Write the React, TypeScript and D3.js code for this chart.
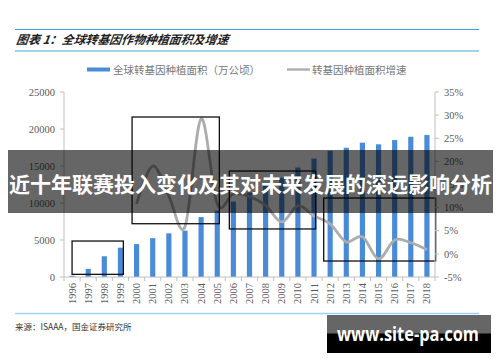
import React from 'react';
import * as d3 from 'd3';

// chart data
const years = d3.range(1996, 2019).map(String);
const areaValues = [170, 1100, 2800, 3960, 4450, 5250, 5900, 6260, 8100, 8960, 10200, 11430, 12500, 13400, 14800, 16000, 17060, 17470, 18150, 17930, 18500, 18950, 19180];
const growthYears = d3.range(2000, 2019).map(String);
const growthValues = [10.8, 19.0, 12.5, 5.9, 29.2, 10.8, 13.0, 12.4, 10.5, 6.9, 10.4, 8.2, 6.5, 2.6, 3.7, -1.1, 3.0, 2.4, 0.9];
const leftTicks = [0, 5000, 10000, 15000, 20000, 25000];
const rightTicks = [-5, 0, 5, 10, 15, 20, 25, 30, 35];

// highlight boxes: fractional category index range, and left-axis value range
const boxes = [
  { from: 0, to: 3.18, top: 4860, bottom: 360 },
  { from: 3.72, to: 9.13, top: 21620, bottom: 7200 },
  { from: 9.75, to: 15.1, top: 14320, bottom: 6490 },
  { from: 15.6, to: 22.54, top: 10670, bottom: 2160 },
];

const titleText = '图表 1：全球转基因作物种植面积及增速';
const legendBar = '全球转基因种植面积（万公顷）';
const legendLine = '转基因种植面积增速';
const sourceText = '来源：ISAAA，国金证券研究所';
const bannerText = '近十年联赛投入变化及其对未来发展的深远影响分析';
const watermark = 'www.site-pa.com';

const W = 500;
const H = 362;
const plot = { left: 64, right: 435, top: 92, bottom: 277 };

const serif = '"Liberation Serif", "DejaVu Serif", serif';
const cjk = '"Noto Sans CJK SC", "Noto Sans", sans-serif';
const axisColor = '#bfbfbf';
const labelColor = '#595959';

export default function App() {
  const x = d3.scaleBand<string>()
    .domain(years)
    .range([plot.left, plot.right])
    .paddingInner(0.68)
    .paddingOuter(0.34);
  const step = x.step();
  const xc = (i: number) => (x(years[0]) as number) + x.bandwidth() / 2 + step * i;

  const yL = d3.scaleLinear().domain([0, 25000]).range([plot.bottom, plot.top]);
  const yR = d3.scaleLinear().domain([-5, 35]).range([plot.bottom, plot.top]);

  const lineGen = d3.line<number>()
    .x((_, i) => (x(growthYears[i]) as number) + x.bandwidth() / 2)
    .y(d => yR(d))
    .curve(d3.curveCatmullRom.alpha(0));

  // x-axis ticks between categories
  const xTickPos = d3.range(years.length + 1).map(i => plot.left + step * i);

  return (
    <svg width={W} height={H} style={{ position: 'absolute', left: 0, top: 0, background: '#fff' }}>
      {/* header */}
      <line x1={15} x2={479} y1={29.5} y2={29.5} stroke="#3ea6dc" strokeWidth={1.2} />
      <text x={16} y={44} fontFamily={cjk} fontSize={12} fontWeight="bold" fontStyle="italic" fill="#1f1f1f"
        transform="skewX(-8) translate(6,0)" textLength={212} lengthAdjust="spacingAndGlyphs">{titleText}</text>
      <line x1={15} x2={479} y1={51} y2={51} stroke="#3ea6dc" strokeWidth={1.2} />

      {/* legend */}
      <rect x={87} y={67.5} width={23} height={4} fill="#4a8bd7" />
      <text x={113} y={73.5} fontFamily={cjk} fontSize={10.5} fill="#777">{legendBar}</text>
      <line x1={287} x2={310} y1={69.5} y2={69.5} stroke="#b0b0b0" strokeWidth={2.5} />
      <text x={312} y={73.5} fontFamily={cjk} fontSize={10.5} fill="#777">{legendLine}</text>

      {/* bars */}
      {areaValues.map((v, i) => (
        <rect key={years[i]} x={x(years[i])} y={yL(v)} width={x.bandwidth()} height={yL(0) - yL(v)} fill="#4a8bd7" />
      ))}

      {/* growth line */}
      <path d={lineGen(growthValues) || ''} fill="none" stroke="#acacac" strokeWidth={2.8} />

      {/* highlight boxes */}
      {boxes.map((b, i) => (
        <rect key={i} x={xc(b.from)} y={yL(b.top)} width={xc(b.to) - xc(b.from)} height={yL(b.bottom) - yL(b.top)}
          fill="none" stroke="#111" strokeWidth={1.3} />
      ))}

      {/* left axis */}
      <line x1={plot.left} x2={plot.left} y1={plot.top} y2={plot.bottom} stroke={axisColor} />
      {leftTicks.map(t => (
        <g key={t}>
          <line x1={plot.left - 4} x2={plot.left} y1={yL(t)} y2={yL(t)} stroke={axisColor} />
          <text x={55} y={yL(t)} dy="0.35em" textAnchor="end" fontFamily={serif} fontSize={10.5} fill={labelColor}>{t}</text>
        </g>
      ))}

      {/* right axis */}
      <line x1={plot.right} x2={plot.right} y1={plot.top} y2={plot.bottom} stroke={axisColor} />
      {rightTicks.map(t => (
        <g key={t}>
          <line x1={plot.right} x2={plot.right + 4} y1={yR(t)} y2={yR(t)} stroke={axisColor} />
          <text x={444} y={yR(t)} dy="0.35em" fontFamily={serif} fontSize={10.5} fill={labelColor}>{t}%</text>
        </g>
      ))}

      {/* x axis */}
      <line x1={plot.left} x2={plot.right} y1={plot.bottom} y2={plot.bottom} stroke={axisColor} />
      {xTickPos.map((p, i) => (
        <line key={i} x1={p} x2={p} y1={plot.bottom} y2={plot.bottom + 4} stroke={axisColor} />
      ))}
      {years.map(yr => {
        const cx = (x(yr) as number) + x.bandwidth() / 2;
        return (
          <text key={yr} transform={`translate(${cx + 3.5},283) rotate(-90)`} textAnchor="end"
            fontFamily={serif} fontSize={10.5} fill={labelColor}>{yr}</text>
        );
      })}

      {/* footer */}
      <line x1={15} x2={479} y1={313.5} y2={313.5} stroke="#9dd3ef" strokeWidth={1.5} />
      <text x={15} y={330} fontFamily={cjk} fontSize={8.5} fill="#333">{sourceText}</text>

      {/* overlay banner */}
      <rect x={8} y={150} width={485} height={63} fill="#000" fillOpacity={0.6} />
      <text x={9} y={192} fontFamily={cjk} fontSize={21} fontWeight="bold" fill="#fff"
        textLength={483} lengthAdjust="spacingAndGlyphs">{bannerText}</text>

      {/* watermark */}
      <rect x={327} y={315} width={164} height={38} fill="#000" />
      <rect x={327} y={315} width={164} height={18.5} fill="#666" />
      <text x={337} y={341} fontFamily={'"Open Sans", "DejaVu Sans", sans-serif'} fontSize={19}
        fontWeight="bold" fill="#fff" textLength={142} lengthAdjust="spacingAndGlyphs">{watermark}</text>
    </svg>
  );
}
